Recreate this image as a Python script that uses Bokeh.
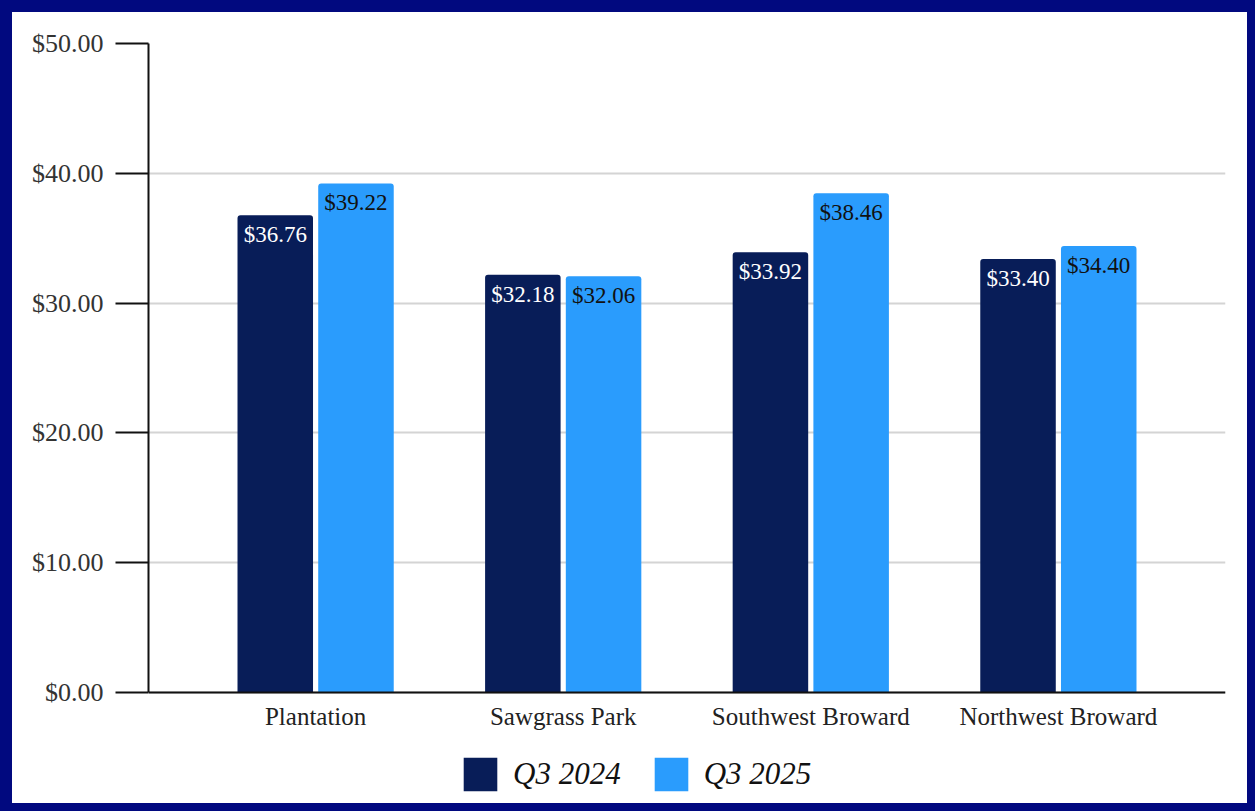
from bokeh.plotting import figure
from bokeh.models import ColumnDataSource, FactorRange, NumeralTickFormatter, FixedTicker, Legend, LegendItem, Span
from bokeh.transform import dodge
from bokeh.embed import file_html
from bokeh.resources import INLINE

categories = ["Plantation", "Sawgrass Park", "Southwest Broward", "Northwest Broward"]
q3_2024 = [36.76, 32.18, 33.92, 33.40]
q3_2025 = [39.22, 32.06, 38.46, 34.40]
series_names = ["Q3 2024", "Q3 2025"]
y_ticks = [0, 10, 20, 30, 40, 50]

DARK = "#081d58"
LIGHT = "#2a9cfd"
NAVY = "#01097f"
SERIF = "Liberation Serif"

src = ColumnDataSource(dict(
    cat=categories,
    zero=[0] * len(categories),
    a=q3_2024,
    b=q3_2025,
    la=[f"${v:.2f}" for v in q3_2024],
    lb=[f"${v:.2f}" for v in q3_2025],
))

# frame spans from the top gridline down to the bottom of the white card;
# the value scale keeps $0 at the baseline and leaves room for labels/legend below
p = figure(
    x_range=FactorRange(factors=categories, range_padding=0.0875),
    y_range=(-8.552, 50),
    frame_width=1077, frame_height=760,
    output_backend="svg", toolbar_location=None,
    min_border_left=136, min_border_top=31, min_border_right=22, min_border_bottom=0,
    background_fill_color="white", border_fill_color="white",
    styles={"margin-left": "12px", "margin-top": "12px", "background-color": "white"},
)
p.outline_line_color = None

r1 = p.vbar(x=dodge("cat", -0.163, range=p.x_range), top="a", width=0.305, source=src,
            fill_color=DARK, line_color=None, border_radius=(3, 3, 0, 0))
r2 = p.vbar(x=dodge("cat", 0.163, range=p.x_range), top="b", width=0.305, source=src,
            fill_color=LIGHT, line_color=None, border_radius=(3, 3, 0, 0))

p.text(x=dodge("cat", -0.163, range=p.x_range), y="a", text="la", source=src,
       text_color="white", text_align="center", text_baseline="top", y_offset=7,
       text_font={"value": SERIF}, text_font_size="23px")
p.text(x=dodge("cat", 0.163, range=p.x_range), y="b", text="lb", source=src,
       text_color="#111111", text_align="center", text_baseline="top", y_offset=7,
       text_font={"value": SERIF}, text_font_size="23px")

# category labels under the baseline
p.text(x="cat", y="zero", text="cat", source=src,
       text_color="#222222", text_align="center", text_baseline="top", y_offset=11,
       text_font={"value": SERIF}, text_font_size="25px")

# baseline (x axis line)
p.add_layout(Span(location=0, dimension="width", line_color="#111111", line_width=2))

# y axis
p.yaxis.bounds = (0, 50)
p.yaxis.ticker = FixedTicker(ticks=y_ticks)
p.yaxis.formatter = NumeralTickFormatter(format="$0.00")
p.yaxis.major_tick_out = 33
p.yaxis.major_tick_in = 0
p.yaxis.minor_tick_line_color = None
p.yaxis.major_tick_line_color = "#111111"
p.yaxis.major_tick_line_width = 2
p.yaxis.axis_line_color = "#111111"
p.yaxis.axis_line_width = 2
p.yaxis.major_label_text_font = SERIF
p.yaxis.major_label_text_font_size = "26px"
p.yaxis.major_label_text_color = "#333333"
p.yaxis.major_label_standoff = 12

p.xaxis.visible = False
p.xgrid.visible = False
p.ygrid.grid_line_color = "#d4d4d4"
p.ygrid.grid_line_width = 2

legend = Legend(
    items=[LegendItem(label=series_names[0], renderers=[r1]),
           LegendItem(label=series_names[1], renderers=[r2])],
    orientation="horizontal", location=(311, 8),
    glyph_width=42, glyph_height=42, label_height=42,
    label_text_font=SERIF, label_text_font_style="italic", label_text_font_size="31px",
    label_text_color="#111111",
    border_line_color=None, background_fill_alpha=0,
    spacing=29, label_standoff=12, padding=0, margin=0,
)
p.add_layout(legend, "center")

html = file_html(p, INLINE)
html = html.replace("</head>", "<style>body{background-color:%s;}</style></head>" % NAVY, 1)
open("out.html", "w").write(html)
